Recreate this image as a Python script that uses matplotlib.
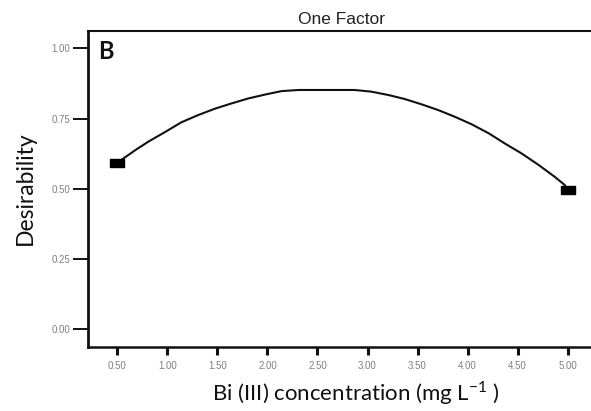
import matplotlib
matplotlib.use("Agg")
import matplotlib.pyplot as plt

# values
conc = [0.50, 0.54, 0.68, 0.81, 0.98, 1.14, 1.31, 1.48, 1.64, 1.81, 1.98, 2.14,
        2.31, 2.87, 3.04, 3.21, 3.37, 3.54, 3.71, 3.87, 4.04, 4.21, 4.37, 4.54,
        4.71, 4.87, 4.97, 5.00]
desir = [0.591, 0.603, 0.638, 0.668, 0.703, 0.737, 0.763, 0.786, 0.804, 0.822,
         0.836, 0.848, 0.852, 0.852, 0.846, 0.834, 0.820, 0.801, 0.780, 0.757,
         0.730, 0.698, 0.662, 0.626, 0.585, 0.543, 0.514, 0.496]
end_x = [0.50, 5.00]
end_y = [0.591, 0.496]

xticks = [0.5, 1.0, 1.5, 2.0, 2.5, 3.0, 3.5, 4.0, 4.5, 5.0]
yticks = [0.0, 0.25, 0.5, 0.75, 1.0]

plt.rcParams["mathtext.fontset"] = "custom"
plt.rcParams["mathtext.rm"] = "Lato"

W, H = 591, 411
fig = plt.figure(figsize=(W / 100, H / 100), dpi=100)
ax = fig.add_axes([88 / W, 1 - 347 / H, (W - 88) / W, (347 - 31) / H])

ax.plot(conc, desir, color="#111111", lw=1.5, solid_capstyle="round")
rect = [(-1, -0.6), (1, -0.6), (1, 0.6), (-1, 0.6), (-1, -0.6)]
ax.plot(end_x, end_y, ls="none", marker=rect, ms=9.5, color="black")

ax.set_xlim(0.207, 5.233)
ax.set_ylim(-0.063, 1.062)
ax.set_xticks(xticks)
ax.set_xticklabels(["%.2f" % v for v in xticks])
ax.set_yticks(yticks)
ax.set_yticklabels(["%.2f" % v for v in yticks])

for side in ["left", "bottom", "top"]:
    ax.spines[side].set_color("#111111")
ax.spines["left"].set_linewidth(2.0)
ax.spines["bottom"].set_linewidth(1.8)
ax.spines["top"].set_linewidth(1.5)
ax.spines["right"].set_visible(False)

ax.tick_params(axis="y", direction="out", length=10.8, width=1.4, pad=2,
               labelsize=7, labelcolor="#808080", color="#111111")
ax.tick_params(axis="x", direction="out", length=6, width=2.2, pad=4,
               labelsize=7, labelcolor="#808080", color="#111111")
for lab in ax.get_xticklabels() + ax.get_yticklabels():
    lab.set_family("Liberation Sans")

fig.text(341 / W, 1 - 20 / H, "One Factor", ha="center", va="center",
         fontsize=12.5, family="Liberation Sans", color="#222222")
ax.text(0.02, 0.97, "B", transform=ax.transAxes, ha="left", va="top",
        fontsize=17, fontweight="bold", family="Lato", color="#111111")

fig.text(25 / W, 1 - 188 / H, "Desirability", rotation=90, ha="center",
         va="center", fontsize=16.5, family="Lato", color="#111111")
fig.text(356 / W, 1 - 393 / H, r"Bi (III) concentration (mg L$^{\mathrm{-1}}$ )",
         ha="center", va="center", fontsize=16, family="Lato", color="#111111")

fig.savefig("out.png", dpi=100)
